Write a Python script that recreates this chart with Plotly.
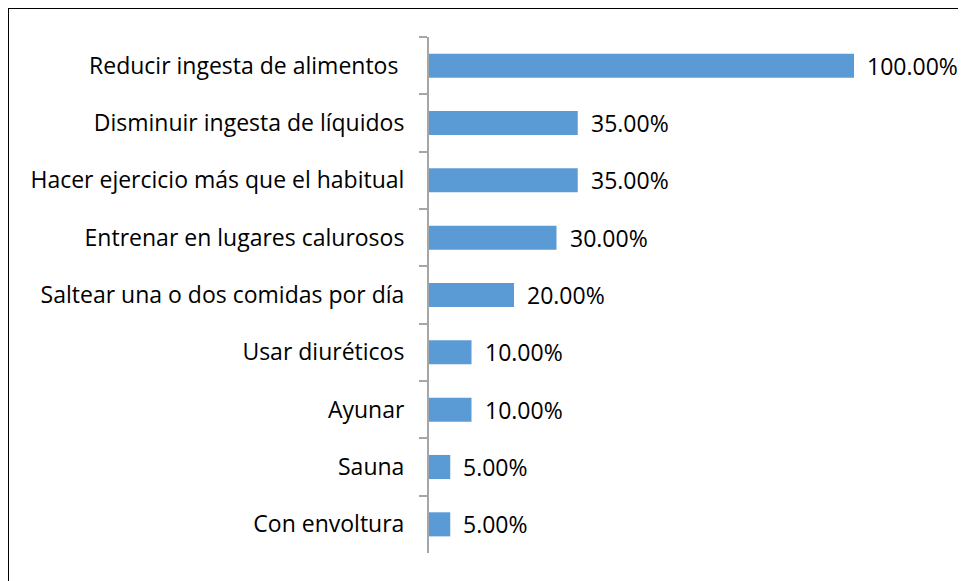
import plotly.graph_objects as go

categories = [
    "Reducir ingesta de alimentos ",
    "Disminuir ingesta de líquidos",
    "Hacer ejercicio más que el habitual",
    "Entrenar en lugares calurosos",
    "Saltear una o dos comidas por día",
    "Usar diuréticos",
    "Ayunar",
    "Sauna",
    "Con envoltura",
]
values = [100, 35, 35, 30, 20, 10, 10, 5, 5]
labels = [f"{v:.2f}%" for v in values]

FONT = "Open Sans"

fig = go.Figure(go.Bar(
    x=values, y=categories, orientation="h",
    marker=dict(color="#5B9BD5", line=dict(width=0)),
    width=0.42,
))

for v, c, t in zip(values, categories, labels):
    fig.add_annotation(x=v, y=c, text=t, showarrow=False, xanchor="left",
                       xshift=11, font=dict(family=FONT, size=23, color="#000"))

fig.update_yaxes(autorange="reversed", showline=True, linecolor="#A6A6A6", linewidth=2,
                 ticks="outside", tickson="boundaries", ticklen=8, tickcolor="#A6A6A6",
                 tickwidth=1.5, ticklabelstandoff=18,
                 tickfont=dict(family=FONT, size=23, color="#000"))
fig.update_xaxes(range=[0, 100], visible=False)

# outer frame (only top and left edges show)
fx = -421 / 425
fy = 545 / 516
fig.add_shape(type="line", xref="paper", yref="paper", x0=fx, x1=2,
              y0=fy, y1=fy, line=dict(color="#000", width=2))
fig.add_shape(type="line", xref="paper", yref="paper", x0=fx, x1=fx,
              y0=fy, y1=-1, line=dict(color="#000", width=2))

fig.update_layout(
    width=958, height=573,
    margin=dict(l=421, r=112, t=29, b=28, autoexpand=False),
    plot_bgcolor="white", paper_bgcolor="white",
    showlegend=False,
)

fig.write_html("out.html")
